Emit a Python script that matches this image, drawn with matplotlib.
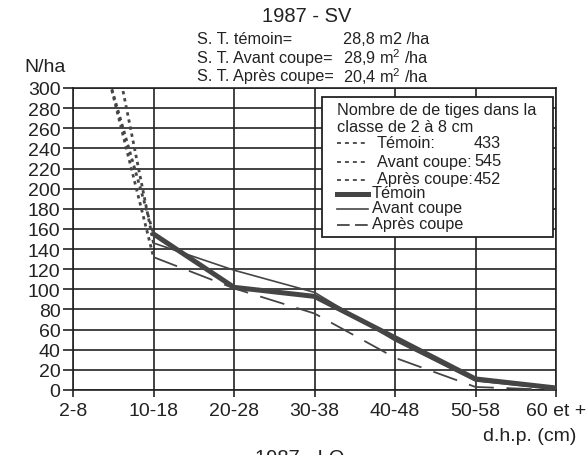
import matplotlib.pyplot as plt
from matplotlib.lines import Line2D
from matplotlib.patches import Rectangle

plt.rcParams['font.family'] = ['Liberation Sans', 'DejaVu Sans']
plt.rcParams['mathtext.fontset'] = 'custom'
plt.rcParams['mathtext.rm'] = 'Liberation Sans'

# classes de diametre et nombre de tiges par ha
categories = ['2-8', '10-18', '20-28', '30-38', '40-48', '50-58', '60 et +']
temoin = [433, 155, 102, 93, 52, 11, 2]
avant = [545, 146, 119, 97, 49, 9, 1]
apres = [452, 132, 101, 76, 32, 3, 0]
yticks = list(range(0, 301, 20))

ink = '#222222'
line_col = '#454545'

W, H = 588, 456


def px(x, y):
    # pixel position -> figure fraction
    return x / W, 1 - y / H


fig = plt.figure(figsize=(W / 100, H / 100), dpi=100)
ax = fig.add_axes([73 / W, 1 - 391 / H, (556 - 73) / W, (391 - 89) / H])

xs = list(range(len(categories)))

# premier segment (2-8 -> 10-18) en pointille
dot = (0, (1.2, 1.4))
for series in (temoin, avant, apres):
    ax.plot(xs[:2], series[:2], color=line_col, lw=2.0, linestyle=dot,
            dash_capstyle='butt', zorder=3)

ax.plot(xs[1:], temoin[1:], color=line_col, lw=3.6, solid_joinstyle='round', zorder=4)
ax.plot(xs[1:], avant[1:], color=line_col, lw=1.2, zorder=4)
ax.plot(xs[1:], apres[1:], color=line_col, lw=1.3, linestyle=(0, (14, 7)), zorder=4)

ax.set_xlim(0, len(categories) - 1)
ax.set_ylim(0, 300)
ax.set_xticks(xs)
ax.set_xticklabels(categories)
ax.set_yticks(yticks)
ax.grid(True, color=ink, lw=1.2)
ax.set_axisbelow(True)
for s in ax.spines.values():
    s.set_color(ink)
    s.set_linewidth(1.2)
ax.tick_params(axis='y', direction='out', length=7, width=1.2, color=ink,
               labelsize=14, labelcolor=ink, pad=2)
ax.tick_params(axis='x', direction='out', length=5, width=1.2, color=ink,
               labelsize=14, labelcolor=ink, pad=4)

# encadre de legende
ax.add_patch(Rectangle((0.516, 0.507), 0.478, 0.463, transform=ax.transAxes,
                       facecolor='white', edgecolor=ink, lw=1.3, zorder=5))

lx0, lx1 = (337 - 73) / 483, (368 - 73) / 483


def ly(y):
    return (391 - y) / 302


fs_leg = 11.7
ax.text(lx0, ly(111), 'Nombre de de tiges dans la', transform=ax.transAxes,
        fontsize=fs_leg, color=ink, va='center', zorder=6)
ax.text(lx0, ly(128), 'classe de 2 à 8 cm', transform=ax.transAxes,
        fontsize=fs_leg, color=ink, va='center', zorder=6)

dotted_rows = [('Témoin:', '433', 143), ('Avant coupe:', '545', 162), ('Après coupe:', '452', 180)]
for name, val, y in dotted_rows:
    ax.add_line(Line2D([lx0, lx1], [ly(y + 1)] * 2, transform=ax.transAxes, color=line_col,
                       lw=1.3, linestyle=(0, (2.2, 2.2)), zorder=6))
    ax.text((377 - 73) / 483, ly(y), name, transform=ax.transAxes,
            fontsize=fs_leg, color=ink, va='center', zorder=6)
    ax.text((474 - 73) / 483, ly(y), val, transform=ax.transAxes,
            fontsize=fs_leg, color=ink, va='center', zorder=6)

solid_rows = [('Témoin', 194, dict(lw=3.6)), ('Avant coupe', 209, dict(lw=1.2)),
              ('Après coupe', 225, dict(lw=1.3, linestyle=(0, (7, 3))))]
for name, y, style in solid_rows:
    ax.add_line(Line2D([lx0, lx1], [ly(y + 1)] * 2, transform=ax.transAxes,
                       color=line_col, zorder=6, **style))
    ax.text((372 - 73) / 483, ly(y), name, transform=ax.transAxes,
            fontsize=fs_leg, color=ink, va='center', zorder=6)

# titres
fig.text(*px(307, 17), '1987 - SV', fontsize=14.5, color=ink, ha='center', va='center')
fs_sub = 11.7
fig.text(*px(197, 39), 'S. T. témoin=', fontsize=fs_sub, color=ink, va='center')
fig.text(*px(343, 39), '28,8 m2 /ha', fontsize=fs_sub, color=ink, va='center')
fig.text(*px(197, 58), 'S. T. Avant coupe=', fontsize=fs_sub, color=ink, va='center')
fig.text(*px(343, 58), '28,9 m$^2$ /ha', fontsize=fs_sub, color=ink, va='center')
fig.text(*px(197, 77), 'S. T. Après coupe=', fontsize=fs_sub, color=ink, va='center')
fig.text(*px(343, 77), '20,4 m$^2$ /ha', fontsize=fs_sub, color=ink, va='center')

fig.text(*px(45, 67), 'N/ha', fontsize=14, color=ink, ha='center', va='center')
fig.text(*px(576, 437), 'd.h.p. (cm)', fontsize=14, color=ink, ha='right', va='center')
# titre du graphique suivant, coupe par le bord comme sur l'original
fig.text(*px(300, 449), '1987 - LQ', fontsize=14.5, color=ink, ha='center', va='top')

fig.savefig('out.png', dpi=100)
